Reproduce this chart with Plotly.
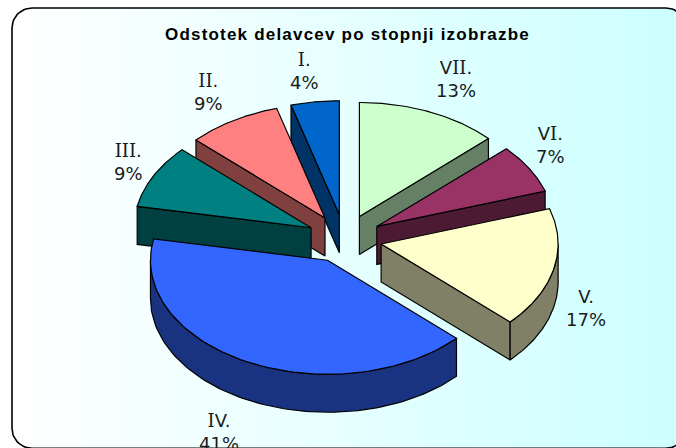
import numpy as np
import plotly.graph_objects as go

# data
categories = ["VII.", "VI.", "V.", "IV.", "III.", "II.", "I."]
percent_values = [13, 7, 17, 41, 9, 8.6, 4.4]
percent_labels = ["13%", "7%", "17%", "41%", "9%", "9%", "4%"]
top_colors = ["#CCFFCC", "#993366", "#FFFFCC", "#3366FF", "#008080", "#FF8080", "#0066CC"]
wall_colors = ["#668066", "#4D1A33", "#808066", "#1A3380", "#004040", "#804040", "#003366"]
title_text = "Odstotek delavcev po stopnji izobrazbe"

# projection / layout (pixel-scaled axes)
W, H = 676, 448
CX, CY = 344.5, 238.7
RX, RY = 177, 114
DEPTH = 38
PULL = 0.212
DRAW_ORDER = [6, 5, 4, 0, 1, 2, 3]
LABEL_POS = {"VII.": (456, 79), "VI.": (550, 145), "V.": (586, 308), "IV.": (219, 432),
             "III.": (128, 162), "II.": (208, 92), "I.": (304, 71)}

fig = go.Figure()

# rounded background with horizontal gradient
L, T, R, B, r = 12, 8, 686, 448.3, 20
t = np.linspace(0, np.pi / 2, 16)
bx = np.concatenate([L + r - r * np.cos(t), R - r + r * np.sin(t), R - r + r * np.cos(t), L + r - r * np.sin(t), [L]])
by = np.concatenate([T + r - r * np.sin(t), T + r - r * np.cos(t), B - r + r * np.sin(t), B - r + r * np.cos(t), [T + r]])
fig.add_trace(go.Scatter(x=bx, y=by, mode="lines", fill="toself",
                         line=dict(color="#000000", width=1.6),
                         fillgradient=dict(type="horizontal", colorscale=[[0, "#FFFFFF"], [1, "#CCFFFF"]]),
                         hoverinfo="skip", showlegend=False))


def poly(xs, ys, color):
    fig.add_trace(go.Scatter(x=xs, y=ys, mode="lines", fill="toself", fillcolor=color,
                             line=dict(color="#000000", width=1.2), hoverinfo="skip", showlegend=False))


total = sum(percent_values)
edges = np.concatenate([[0], np.cumsum(percent_values)]) / total * 2 * np.pi

for i in DRAW_ORDER:
    a0, a1 = edges[i], edges[i + 1]
    mid = (a0 + a1) / 2
    ax = CX + PULL * RX * np.sin(mid)
    ay = CY - PULL * RY * np.cos(mid)
    th = np.linspace(a0, a1, 90)
    ex = ax + RX * np.sin(th)
    ey = ay - RY * np.cos(th)
    # radial wall, only where it faces the viewer
    for e, visible in ((a0, np.sin(a0) < -1e-9), (a1, np.sin(a1) > 1e-9)):
        if visible:
            px = ax + RX * np.sin(e)
            py = ay - RY * np.cos(e)
            poly([ax, px, px, ax, ax], [ay, py, py + DEPTH, ay + DEPTH, ay], wall_colors[i])
    # outer rim wall (front half only)
    lo, hi = max(a0, np.pi / 2), min(a1, 3 * np.pi / 2)
    if hi > lo:
        ph = np.linspace(lo, hi, 90)
        rx = ax + RX * np.sin(ph)
        ry = ay - RY * np.cos(ph)
        poly(np.concatenate([rx, rx[::-1], rx[:1]]),
             np.concatenate([ry, ry[::-1] + DEPTH, ry[:1]]), wall_colors[i])
    # top face
    poly(np.concatenate([[ax], ex, [ax]]), np.concatenate([[ay], ey, [ay]]), top_colors[i])

for cat, pct in zip(categories, percent_labels):
    x, y = LABEL_POS[cat]
    name = "".join("<span style=\"font-family:'DejaVu Serif'\">I</span>" if c == "I" else c for c in cat)
    fig.add_annotation(x=x, y=y, text=f"{name}<br>{pct}", showarrow=False, xanchor="center", yanchor="middle",
                       font=dict(family="DejaVu Sans", size=18, color="#1a1a1a"), align="center")

fig.add_annotation(x=347.5, y=34, text=f"<span style=\"letter-spacing:1.2px\"><b>{title_text}</b></span>",
                   showarrow=False, xanchor="center", yanchor="middle",
                   font=dict(family="Liberation Sans", size=17, color="#000000"))

fig.update_layout(width=W, height=H, margin=dict(l=0, r=0, t=0, b=0),
                  paper_bgcolor="#FFFFFF", plot_bgcolor="rgba(0,0,0,0)",
                  xaxis=dict(range=[0, W], visible=False, fixedrange=True),
                  yaxis=dict(range=[H, 0], visible=False, fixedrange=True),
                  showlegend=False)
fig.write_html("out.html", config={"displayModeBar": False},
               post_script="document.body.style.margin='0';document.body.style.overflow='hidden';")
